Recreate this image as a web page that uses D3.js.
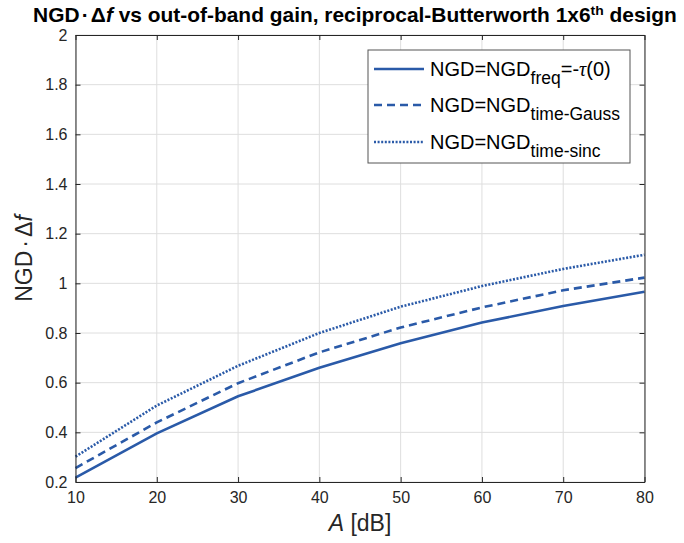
<!DOCTYPE html>
<html>
<head>
<meta charset="utf-8">
<script src="https://cdn.jsdelivr.net/npm/d3@7"></script>
<style>
  html, body { margin: 0; padding: 0; background: #fff; }
  svg { display: block; font-family: "Liberation Sans", Arial, Helvetica, sans-serif; }
</style>
</head>
<body>
<svg id="chart" width="684" height="543"></svg>
<script>
// ---- data ----
const gainA = [10, 20, 30, 40, 50, 60, 70, 80];
const ngdFreq = [0.218, 0.396, 0.545, 0.660, 0.759, 0.842, 0.909, 0.966];
const ngdGauss = [0.256, 0.440, 0.598, 0.722, 0.822, 0.903, 0.972, 1.023];
const ngdSinc = [0.302, 0.508, 0.668, 0.800, 0.906, 0.989, 1.058, 1.115];
const xTicks = [10, 20, 30, 40, 50, 60, 70, 80];
const yTicks = [0.2, 0.4, 0.6, 0.8, 1, 1.2, 1.4, 1.6, 1.8, 2];
const seriesNames = ["freq", "time-Gauss", "time-sinc"];

const svg = d3.select("#chart");
const M = { left: 75.5, right: 644.5, top: 35, bottom: 482 };
const color = "#2a5aa8";

const x = d3.scaleLinear().domain([10, 80]).range([M.left, M.right]);
const y = d3.scaleLinear().domain([0.2, 2]).range([M.bottom, M.top]);

// grid
const grid = svg.append("g");
grid.selectAll("line.vx").data(xTicks).enter().append("line")
  .attr("x1", d => x(d)).attr("x2", d => x(d))
  .attr("y1", M.top).attr("y2", M.bottom)
  .attr("stroke", "#dedede").attr("stroke-width", 1);
grid.selectAll("line.hy").data(yTicks).enter().append("line")
  .attr("y1", d => y(d)).attr("y2", d => y(d))
  .attr("x1", M.left).attr("x2", M.right)
  .attr("stroke", "#dedede").attr("stroke-width", 1);

// series
const series = [
  { vals: ngdFreq, dash: null },
  { vals: ngdGauss, dash: "8,5" },
  { vals: ngdSinc, dash: "2,1.6" }
];
const line = d3.line().x(d => x(d[0])).y(d => y(d[1]));
series.forEach(s => {
  svg.append("path")
    .attr("d", line(gainA.map((a, i) => [a, s.vals[i]])))
    .attr("fill", "none").attr("stroke", color).attr("stroke-width", 2.6)
    .attr("stroke-dasharray", s.dash);
});

// axes (MATLAB style inward ticks)
const tickLen = 5;
const axB = d3.axisBottom(x).tickValues(xTicks).tickSizeInner(-tickLen).tickSizeOuter(0).tickPadding(10).tickFormat(d3.format("d"));
const axL = d3.axisLeft(y).tickValues(yTicks).tickSizeInner(-tickLen).tickSizeOuter(0).tickPadding(8).tickFormat(d => d3.format("~g")(d));
const axT = d3.axisTop(x).tickValues(xTicks).tickSizeInner(-tickLen).tickSizeOuter(0).tickFormat("");
const axR = d3.axisRight(y).tickValues(yTicks).tickSizeInner(-tickLen).tickSizeOuter(0).tickFormat("");

function styleAxis(g) {
  g.select(".domain").attr("stroke", "#262626").attr("stroke-width", 1);
  g.selectAll(".tick line").attr("stroke", "#262626");
  g.selectAll(".tick text").attr("fill", "#262626").attr("font-size", 16)
    .attr("font-family", "'Liberation Sans', Arial, sans-serif");
}
svg.append("g").attr("transform", `translate(0,${M.bottom})`).call(axB).call(styleAxis);
svg.append("g").attr("transform", `translate(${M.left},0)`).call(axL).call(styleAxis);
svg.append("g").attr("transform", `translate(0,${M.top})`).call(axT).call(styleAxis);
svg.append("g").attr("transform", `translate(${M.right},0)`).call(axR).call(styleAxis);

// title (stretched horizontally to the reference's width)
const titleG = svg.append("g");
const title = titleG.append("text").attr("x", 0).attr("y", 0)
  .attr("text-anchor", "middle").attr("font-weight", "bold").attr("font-size", 19.5).attr("fill", "#000");
title.append("tspan").text("NGD");
title.append("tspan").attr("dx", 2).text("\u00B7");
title.append("tspan").attr("dx", 2).text("\u0394");
title.append("tspan").attr("font-style", "italic").text("f");
title.append("tspan").text(" vs out-of-band gain, reciprocal-Butterworth 1x6");
title.append("tspan").attr("font-size", 13).attr("dy", -7).text("th");
title.append("tspan").attr("dy", 7).text(" design");
const tw = title.node().getBBox().width;
titleG.attr("transform", `translate(355,22) scale(${644 / tw},1)`);

// x label
const xl = svg.append("text").attr("x", (M.left + M.right) / 2).attr("y", 531)
  .attr("text-anchor", "middle").attr("font-size", 23).attr("fill", "#262626");
xl.append("tspan").attr("font-style", "italic").text("A");
xl.append("tspan").text(" [dB]");

// y label
const yl = svg.append("text")
  .attr("transform", `translate(32,${(M.top + M.bottom) / 2}) rotate(-90)`)
  .attr("text-anchor", "middle").attr("font-size", 23).attr("fill", "#262626");
yl.append("tspan").text("NGD");
yl.append("tspan").attr("dx", 3).text("\u00B7");
yl.append("tspan").attr("dx", 3).text("\u0394");
yl.append("tspan").attr("font-style", "italic").text("f");

// legend
const L = { x: 368, y: 50, w: 262, h: 113 };
const lg = svg.append("g");
lg.append("rect").attr("x", L.x).attr("y", L.y).attr("width", L.w).attr("height", L.h)
  .attr("fill", "#fff").attr("stroke", "#555").attr("stroke-width", 1);
const rowY = [69, 105, 142];
series.forEach((s, i) => {
  lg.append("line").attr("x1", 374).attr("x2", 424).attr("y1", rowY[i]).attr("y2", rowY[i])
    .attr("stroke", color).attr("stroke-width", 2.6).attr("stroke-dasharray", s.dash);
  const t = lg.append("text").attr("x", 430).attr("y", rowY[i] + 7).attr("font-size", 20).attr("fill", "#000");
  t.append("tspan").text("NGD=NGD");
  t.append("tspan").attr("font-size", 17.5).attr("dy", 8).text(seriesNames[i]);
  if (i === 0) {
    t.append("tspan").attr("dy", -8).text("=-");
    t.append("tspan").attr("font-style", "italic").attr("font-family", "'Liberation Serif', serif").text("\u03C4");
    t.append("tspan").text("(0)");
  }
});
</script>
</body>
</html>
